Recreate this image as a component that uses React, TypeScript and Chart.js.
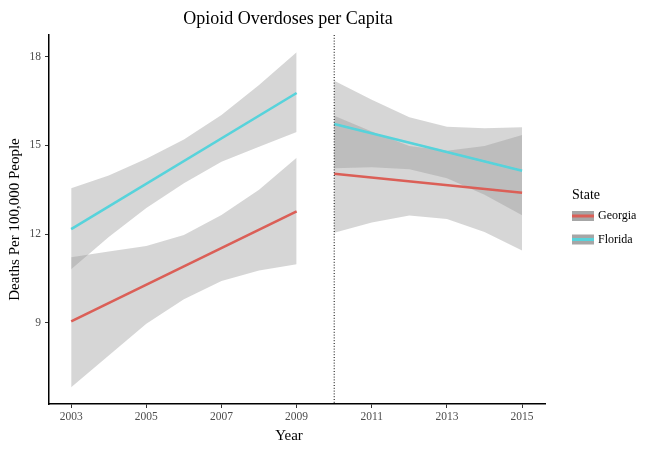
import React, { useEffect, useRef } from "react";
import { Chart, registerables } from "chart.js";

Chart.register(...registerables);

// ---- Data ----
const leftYears = [2003, 2004, 2005, 2006, 2007, 2008, 2009];
const rightYears = [2010, 2011, 2012, 2013, 2014, 2015];
const fitLeftYears = [2003, 2009];
const fitRightYears = [2010, 2015];

const georgiaLeftFit = [9.05, 12.77];
const georgiaLeftUpper = [11.22, 11.41, 11.6, 11.97, 12.65, 13.5, 14.58];
const georgiaLeftLower = [6.83, 7.9, 8.97, 9.8, 10.42, 10.77, 10.98];
const floridaLeftFit = [12.17, 16.77];
const floridaLeftUpper = [13.55, 13.98, 14.55, 15.2, 16.03, 17.04, 18.15];
const floridaLeftLower = [10.81, 11.9, 12.88, 13.72, 14.45, 14.95, 15.45];

const georgiaRightFit = [14.04, 13.4];
const georgiaRightUpper = [16.0, 15.47, 14.98, 14.82, 14.98, 15.35];
const georgiaRightLower = [12.05, 12.39, 12.63, 12.51, 12.07, 11.45];
const floridaRightFit = [15.72, 14.14];
const floridaRightUpper = [17.18, 16.54, 15.95, 15.63, 15.58, 15.61];
const floridaRightLower = [14.23, 14.26, 14.19, 13.89, 13.33, 12.64];

const xTicks = [2003, 2005, 2007, 2009, 2011, 2013, 2015];
const yTicks = [9, 12, 15, 18];
const states = ["Georgia", "Florida"];
const stateColors = ["#db5f57", "#57d3db"];
const cutYear = 2010;

const FONT = '"Liberation Serif", "Times New Roman", serif';
const BAND = "rgba(153,153,153,0.4)";

const pts = (xs: number[], ys: number[]) => xs.map((x, i) => ({ x, y: ys[i] }));

const bandPair = (xs: number[], lower: number[], upper: number[]) => [
  {
    data: pts(xs, lower),
    borderWidth: 0,
    borderColor: "transparent",
    pointRadius: 0,
    fill: false,
    order: 1,
    tension: 0,
  },
  {
    data: pts(xs, upper),
    borderWidth: 0,
    borderColor: "transparent",
    backgroundColor: BAND,
    pointRadius: 0,
    fill: "-1",
    order: 1,
    tension: 0,
  },
];

const fitLine = (xs: number[], ys: number[], color: string) => ({
  data: pts(xs, ys),
  borderColor: color,
  borderWidth: 2.6,
  pointRadius: 0,
  fill: false,
  order: 0,
});

const decorPlugin = {
  id: "decor",
  afterDatasetsDraw(chart: any) {
    const { ctx, chartArea, scales } = chart;
    const x = scales.x.getPixelForValue(cutYear);
    ctx.save();
    ctx.strokeStyle = "#000";
    ctx.lineWidth = 1;
    ctx.setLineDash([1, 1.8]);
    ctx.beginPath();
    ctx.moveTo(x, chartArea.top);
    ctx.lineTo(x, chartArea.bottom);
    ctx.stroke();
    ctx.restore();
  },
  afterDraw(chart: any) {
    const { ctx } = chart;
    ctx.save();
    ctx.fillStyle = "#000";
    ctx.textAlign = "center";
    ctx.textBaseline = "middle";
    ctx.font = `18px ${FONT}`;
    ctx.fillText("Opioid Overdoses per Capita", 288, 19);
    ctx.font = `15px ${FONT}`;
    ctx.fillText("Year", 289, 436);
    ctx.save();
    ctx.translate(15, 219.5);
    ctx.rotate(-Math.PI / 2);
    ctx.fillText("Deaths Per 100,000 People", 0, 0);
    ctx.restore();

    // legend
    ctx.textAlign = "left";
    ctx.font = `14px ${FONT}`;
    ctx.fillText("State", 572, 195);
    states.forEach((s, i) => {
      const top = 211 + i * 23.5;
      ctx.fillStyle = "#a6a6a6";
      ctx.fillRect(572, top, 22, 10);
      ctx.strokeStyle = stateColors[i];
      ctx.lineWidth = 3;
      ctx.beginPath();
      ctx.moveTo(572, top + 5);
      ctx.lineTo(594, top + 5);
      ctx.stroke();
      ctx.fillStyle = "#000";
      ctx.font = `12px ${FONT}`;
      ctx.fillText(s, 598, top + 5);
    });
    ctx.restore();
  },
};

export default function App() {
  const ref = useRef<HTMLCanvasElement>(null);
  useEffect(() => {
    if (!ref.current) return;
    const chart = new Chart(ref.current, {
      type: "line",
      data: {
        datasets: [
          ...bandPair(leftYears, georgiaLeftLower, georgiaLeftUpper),
          ...bandPair(leftYears, floridaLeftLower, floridaLeftUpper),
          ...bandPair(rightYears, georgiaRightLower, georgiaRightUpper),
          ...bandPair(rightYears, floridaRightLower, floridaRightUpper),
          fitLine(fitLeftYears, georgiaLeftFit, stateColors[0]),
          fitLine(fitRightYears, georgiaRightFit, stateColors[0]),
          fitLine(fitLeftYears, floridaLeftFit, stateColors[1]),
          fitLine(fitRightYears, floridaRightFit, stateColors[1]),
        ] as any,
      },
      options: {
        responsive: false,
        animation: false,
        layout: { padding: { left: 0, top: 35, right: 119, bottom: 0 } },
        plugins: {
          legend: { display: false },
          title: { display: false },
          tooltip: { enabled: false },
        },
        scales: {
          x: {
            type: "linear",
            min: 2002.41,
            max: 2015.61,
            afterFit: (s: any) => {
              s.height = 49;
            },
            afterBuildTicks: (s: any) => {
              s.ticks = xTicks.map((v) => ({ value: v }));
            },
            ticks: {
              font: { family: FONT, size: 11.5 },
              color: "#4d4d4d",
              padding: 2,
              maxRotation: 0,
              callback: (v: any) => String(v),
            },
            grid: { drawOnChartArea: false, drawTicks: true, tickLength: 4, color: "#333" },
            border: { display: true, color: "#000", width: 1.5 },
          },
          y: {
            type: "linear",
            min: 6.26,
            max: 18.73,
            afterFit: (s: any) => {
              s.width = 49;
            },
            afterBuildTicks: (s: any) => {
              s.ticks = yTicks.map((v) => ({ value: v }));
            },
            ticks: {
              font: { family: FONT, size: 11.5 },
              color: "#4d4d4d",
              padding: 4,
              callback: (v: any) => String(v),
            },
            grid: { drawOnChartArea: false, drawTicks: true, tickLength: 4, color: "#333" },
            border: { display: true, color: "#000", width: 1.5 },
          },
        },
      },
      plugins: [decorPlugin],
    });
    return () => chart.destroy();
  }, []);
  return (
    <div style={{ position: "fixed", left: 0, top: 0, width: 664, height: 453, background: "#fff" }}>
      <canvas ref={ref} width={664} height={453} style={{ width: 664, height: 453 }} />
    </div>
  );
}
